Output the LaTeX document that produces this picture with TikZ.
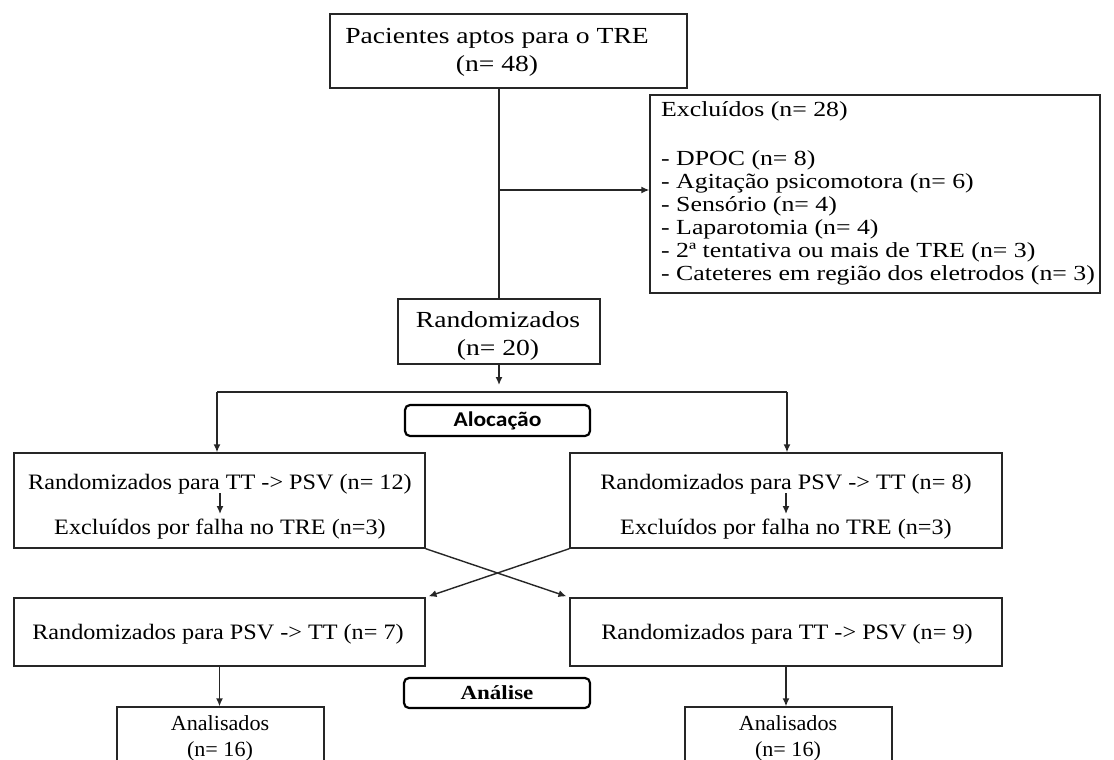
\documentclass[tikz,border=0pt]{standalone}
\usepackage{fontspec}
\setmainfont{Liberation Serif}
\newfontfamily\fTop[FakeStretch=1.2]{Liberation Serif}
\newfontfamily\fBox[FakeStretch=1.1]{Liberation Serif}
\newfontfamily\fExc[FakeStretch=1.2]{Liberation Serif}
\newfontfamily\fAna[FakeStretch=1.03]{Liberation Serif}
\newfontfamily\fAloc[FakeStretch=1.12]{Carlito}
\newfontfamily\fAnl[FakeStretch=1.15]{Liberation Serif}
\usetikzlibrary{arrows.meta}
\begin{document}
\begin{tikzpicture}[x=1pt,y=-1pt,
  box/.style={draw=black!85, line width=1.4pt, rectangle, inner sep=0pt},
  lbl/.style={inner sep=0pt, anchor=base},
  lblw/.style={inner sep=0pt, anchor=base west},
  ftop/.style={font=\fTop\fontsize{23}{28}\selectfont},
  fbox/.style={font=\fBox\fontsize{22}{26}\selectfont},
  fexc/.style={font=\fExc\fontsize{21.5}{24}\selectfont},
  fana/.style={font=\fAna\fontsize{21.5}{25}\selectfont},
  conn/.style={draw=black!85, line width=1.4pt},
  arr/.style={conn, -{Latex[length=8pt,width=7pt]}},
  phase/.style={draw=black, line width=2.2pt, rounded corners=5pt, inner sep=0pt},
]
\useasboundingbox (0,0) rectangle (1114,760);
\fill[white] (0,0) rectangle (1114,760);

% top box
\node[box, minimum width=357pt, minimum height=74pt] (top) at (508.5,51) {};
\node[lbl, ftop] (t1) at (497,44) {Pacientes aptos para o TRE};
\node[lbl, ftop] (t2) at (497,72) {(n= 48)};

% excluded box
\node[box, minimum width=450pt, minimum height=198pt] (excl) at (875,194) {};
\node[lblw, fexc] (e0) at (661,116) {Excluídos (n= 28)};
\node[lblw, fexc] (e1) at (661,165) {- DPOC (n= 8)};
\node[lblw, fexc] (e2) at (661,188) {- Agitação psicomotora (n= 6)};
\node[lblw, fexc] (e3) at (661,211) {- Sensório (n= 4)};
\node[lblw, fexc] (e4) at (661,234) {- Laparotomia (n= 4)};
\node[lblw, fexc] (e5) at (661,257) {- 2ª tentativa ou mais de TRE (n= 3)};
\node[lblw, fexc] (e6) at (661,280) {- Cateteres em região dos eletrodos (n= 3)};

% randomized box
\node[box, minimum width=202pt, minimum height=65pt] (rand) at (499,331.5) {};
\node[lbl, ftop] (r1) at (498,327) {Randomizados};
\node[lbl, ftop] (r2) at (498,355) {(n= 20)};

\draw[conn] (top.south -| rand.north) -- (rand.north);
\coordinate (j1) at (499,190);
\draw[arr] (j1) -- (j1 -| excl.west);

\coordinate (rs) at (499,385);
\draw[arr] (rand.south) -- (rs);

% allocation
\node[phase, minimum width=185pt, minimum height=31pt, font=\fAloc\bfseries\fontsize{21}{24}\selectfont] (aloc) at (497.5,420.5) {Alocação};

% upper group boxes
\node[box, minimum width=411pt, minimum height=95pt] (A) at (219.5,500.5) {};
\node[box, minimum width=432pt, minimum height=95pt] (B) at (786,500.5) {};
\node[lbl, fbox] (a1) at (220,489) {Randomizados para TT -> PSV (n= 12)};
\node[lbl, fbox] (a2) at (220,534) {Excluídos por falha no TRE (n=3)};
\node[lbl, fbox] (b1) at (786,489) {Randomizados para PSV -> TT (n= 8)};
\node[lbl, fbox] (b2) at (786,534) {Excluídos por falha no TRE (n=3)};
\draw[arr] ([yshift=-4pt]a1.base) -- ([yshift=-25pt]a1.base);
\draw[arr] ([yshift=-4pt]b1.base) -- ([yshift=-25pt]b1.base);

\coordinate (bl) at (217,392);
\coordinate (br) at (787,392);
\draw[conn] (bl) -- (br);
\draw[arr] (bl) -- (bl |- A.north);
\draw[arr] (br) -- (br |- B.north);

% lower group boxes
\node[box, minimum width=411pt, minimum height=68pt] (C) at (219.5,632) {};
\node[box, minimum width=432pt, minimum height=68pt] (D) at (786,632) {};
\node[lbl, fbox] (c1) at (218,639) {Randomizados para PSV -> TT (n= 7)};
\node[lbl, fbox] (d1) at (787,639) {Randomizados para TT -> PSV (n= 9)};

\draw[arr, shorten >=3pt] (A.south east) -- (D.north west);
\draw[arr, shorten >=3pt] (B.south west) -- (C.north east);

% analysis
\node[phase, minimum width=186pt, minimum height=30pt, font=\fAnl\bfseries\fontsize{20}{24}\selectfont] (anl) at (497,693) {Análise};

\node[box, minimum width=207pt, minimum height=68pt] (E) at (220.5,741) {};
\node[box, minimum width=207pt, minimum height=68pt] (F) at (788.5,741) {};
\node[lbl, fana] (n1) at (220,730) {Analisados};
\node[lbl, fana] (n2) at (220,756) {(n= 16)};
\node[lbl, fana] (m1) at (788,730) {Analisados};
\node[lbl, fana] (m2) at (788,756) {(n= 16)};

\draw[arr] (C.south) -- (C.south |- E.north);
\draw[arr] (D.south) -- (D.south |- F.north);
\end{tikzpicture}
\end{document}
